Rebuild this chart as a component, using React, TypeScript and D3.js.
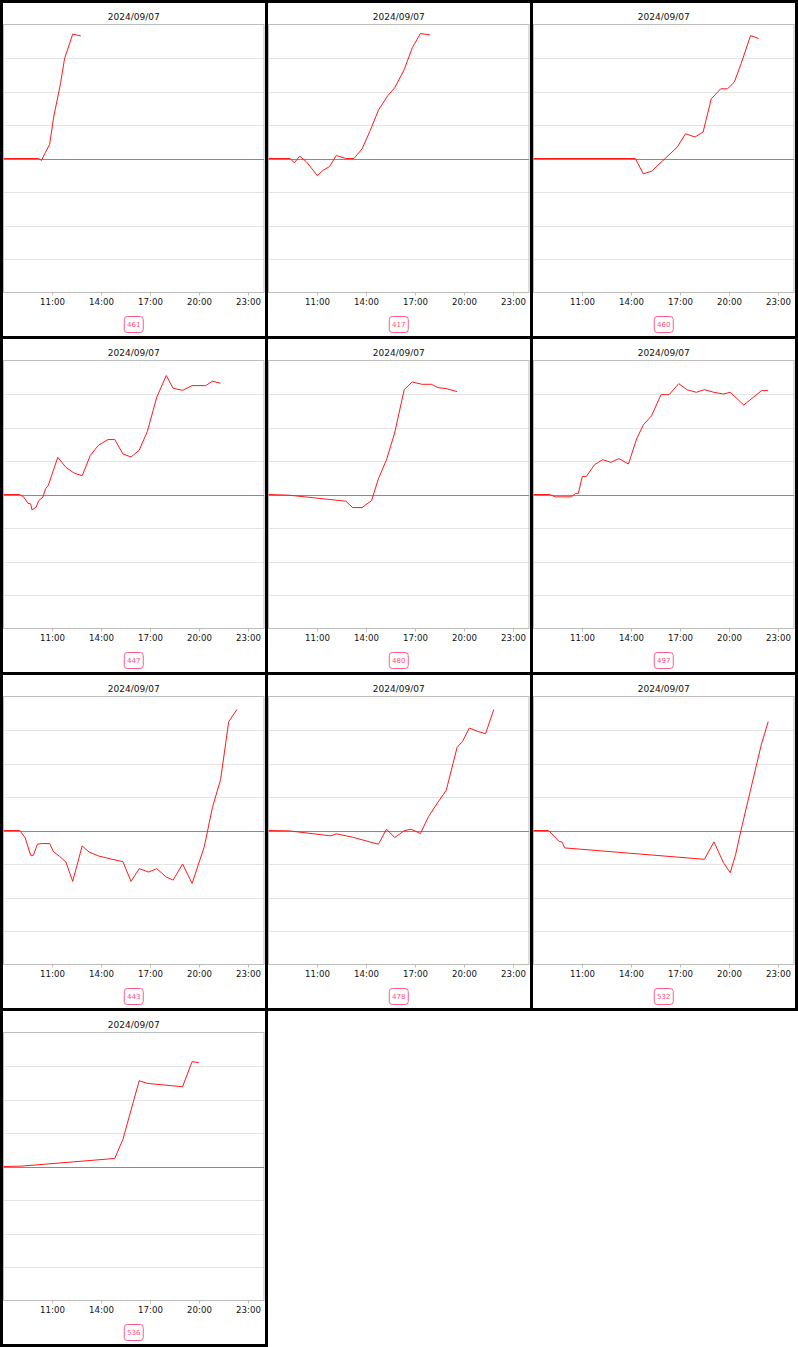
import React from "react";
import * as d3 from "d3";

// ---- data ----
const dateLabel = "2024/09/07";
const tickLabels = ["11:00", "14:00", "17:00", "20:00", "23:00"];
const xDomainHours = [8, 24];
const yDomain = [-4, 4];
const gridValues = [-3, -2, -1, 1, 2, 3];

const badgeIds = [461, 417, 460, 447, 480, 497, 443, 478, 532, 536];

type Pt = [string, number];

const series461: Pt[] = [
  ["08:00", 0], ["10:10", 0], ["10:20", -0.06], ["10:35", 0.19], ["10:50", 0.42],
  ["11:05", 1.24], ["11:30", 2.23], ["11:45", 2.98], ["12:15", 3.71], ["12:45", 3.66],
];
const series417: Pt[] = [
  ["08:00", 0], ["09:20", 0], ["09:35", -0.13], ["09:55", 0.07], ["10:20", -0.1],
  ["11:00", -0.51], ["11:20", -0.36], ["11:45", -0.24], ["12:10", 0.09], ["12:45", 0],
  ["13:15", 0], ["13:45", 0.29], ["14:15", 0.84], ["14:45", 1.44], ["15:20", 1.88],
  ["15:45", 2.11], ["16:20", 2.65], ["16:50", 3.31], ["17:20", 3.73], ["17:55", 3.69],
];
const series460: Pt[] = [
  ["08:00", 0], ["14:15", 0], ["14:45", -0.46], ["15:15", -0.38], ["16:05", 0],
  ["16:50", 0.34], ["17:20", 0.74], ["17:55", 0.64], ["18:25", 0.79], ["18:55", 1.78],
  ["19:30", 2.08], ["19:55", 2.08], ["20:20", 2.28], ["20:45", 2.83], ["21:20", 3.67],
  ["21:50", 3.58],
];
const series447: Pt[] = [
  ["08:00", 0], ["09:00", 0], ["09:15", -0.08], ["09:30", -0.26], ["09:40", -0.28],
  ["09:45", -0.46], ["10:00", -0.38], ["10:10", -0.18], ["10:25", -0.08], ["10:35", 0.17],
  ["10:45", 0.27], ["11:20", 1.11], ["11:50", 0.81], ["12:20", 0.64], ["12:50", 0.56],
  ["13:20", 1.17], ["13:50", 1.47], ["14:25", 1.64], ["14:50", 1.64], ["15:20", 1.21],
  ["15:50", 1.12], ["16:20", 1.32], ["16:50", 1.88], ["17:25", 2.91], ["18:00", 3.55],
  ["18:25", 3.17], ["19:00", 3.11], ["19:35", 3.25], ["20:25", 3.25], ["20:50", 3.38],
  ["21:20", 3.32],
];
const series480: Pt[] = [
  ["08:00", 0], ["09:15", -0.02], ["12:45", -0.2], ["13:10", -0.39], ["13:45", -0.39],
  ["14:20", -0.18], ["14:45", 0.47], ["15:15", 1.04], ["15:45", 1.84], ["16:20", 3.13],
  ["16:50", 3.36], ["17:25", 3.29], ["18:00", 3.29], ["18:25", 3.19], ["18:55", 3.16],
  ["19:35", 3.07],
];
const series497: Pt[] = [
  ["08:00", 0], ["09:00", 0], ["09:20", -0.07], ["10:20", -0.07], ["10:35", 0.03],
  ["10:45", 0.03], ["11:00", 0.54], ["11:15", 0.54], ["11:45", 0.89], ["12:15", 1.04],
  ["12:45", 0.96], ["13:15", 1.07], ["13:50", 0.91], ["14:20", 1.66], ["14:45", 2.08],
  ["15:15", 2.35], ["15:50", 2.98], ["16:20", 2.98], ["16:55", 3.31], ["17:25", 3.13],
  ["18:00", 3.05], ["18:30", 3.13], ["19:05", 3.05], ["19:40", 3.0], ["20:05", 3.05],
  ["20:55", 2.67], ["22:00", 3.1], ["22:25", 3.1],
];
const series443: Pt[] = [
  ["08:00", 0], ["09:00", 0], ["09:20", -0.22], ["09:40", -0.74], ["09:50", -0.74],
  ["10:05", -0.41], ["10:20", -0.39], ["10:50", -0.39], ["11:05", -0.64], ["11:25", -0.76],
  ["11:50", -0.94], ["12:15", -1.52], ["12:50", -0.46], ["13:15", -0.64], ["13:50", -0.76],
  ["14:40", -0.86], ["15:20", -0.93], ["15:50", -1.52], ["16:20", -1.14], ["16:55", -1.24],
  ["17:25", -1.14], ["18:00", -1.39], ["18:25", -1.48], ["19:00", -1.0], ["19:35", -1.58],
  ["20:20", -0.48], ["20:50", 0.69], ["21:20", 1.52], ["21:50", 3.25], ["22:20", 3.61],
];
const series478: Pt[] = [
  ["08:00", 0], ["09:15", -0.01], ["11:50", -0.16], ["12:10", -0.1], ["13:10", -0.2],
  ["14:45", -0.41], ["15:15", 0.04], ["15:45", -0.21], ["16:20", -0.01], ["16:45", 0.04],
  ["17:20", -0.09], ["17:50", 0.42], ["18:25", 0.85], ["18:55", 1.2], ["19:35", 2.48],
  ["19:55", 2.66], ["20:20", 3.06], ["20:50", 2.96], ["21:20", 2.89], ["21:50", 3.61],
];
const series532: Pt[] = [
  ["08:00", 0], ["08:55", 0], ["09:35", -0.33], ["09:45", -0.34], ["09:55", -0.52],
  ["18:30", -0.86], ["19:05", -0.34], ["19:40", -0.96], ["20:05", -1.26], ["20:25", -0.71],
  ["20:45", 0.02], ["22:00", 2.58], ["22:25", 3.25],
];
const series536: Pt[] = [
  ["08:00", 0], ["09:05", 0.01], ["14:50", 0.24], ["15:20", 0.81], ["16:20", 2.56],
  ["16:50", 2.48], ["19:00", 2.38], ["19:35", 3.13], ["20:00", 3.1],
];

const allSeries = [
  series461, series417, series460, series447, series480,
  series497, series443, series478, series532, series536,
];

// ---- layout ----
const W = 798;
const H = 1347;
const COLS = 3;
const PANEL_W = 265;
const PANEL_H = 336;
const FONT = "'DejaVu Sans', Verdana, sans-serif";

const toHours = (s: string) => {
  const [h, m] = s.split(":").map(Number);
  return h + m / 60;
};

function Panel({ idx }: { idx: number }) {
  const col = idx % COLS;
  const row = Math.floor(idx / COLS);
  const x0 = col * PANEL_W;
  const y0 = row * PANEL_H;
  const left = x0 + 3.5;
  const right = x0 + 264;
  const top = y0 + 24.5;
  const bottom = y0 + 292.5;
  const cx = (left + right) / 2;

  const x = d3.scaleLinear().domain(xDomainHours).range([left, right]);
  const y = d3.scaleLinear().domain(yDomain).range([bottom, top]);
  const line = d3
    .line<Pt>()
    .x((d) => x(toHours(d[0])))
    .y((d) => y(d[1]));

  const label = String(badgeIds[idx]);
  const bw = 19;
  const bh = 16;

  return (
    <g>
      <rect
        x={x0 + 1.5}
        y={y0 + 1.5}
        width={PANEL_W}
        height={PANEL_H}
        fill="#fff"
        stroke="#000"
        strokeWidth={3}
      />
      <text
        x={cx}
        y={y0 + 20}
        textAnchor="middle"
        fontFamily={FONT}
        fontSize={9}
        fill="#111"
      >
        {dateLabel}
      </text>
      {gridValues.map((g) => (
        <line
          key={g}
          x1={left}
          x2={right}
          y1={Math.round(y(g)) + 0.5}
          y2={Math.round(y(g)) + 0.5}
          stroke="#e4e4e4"
          strokeWidth={1}
        />
      ))}
      <rect
        x={left}
        y={top}
        width={right - left}
        height={bottom - top}
        fill="none"
        stroke="#bdbdbd"
        strokeWidth={1}
      />
      <line
        x1={left}
        x2={right}
        y1={Math.round(y(0)) + 0.5}
        y2={Math.round(y(0)) + 0.5}
        stroke="#8a8a8a"
        strokeWidth={1}
      />
      {tickLabels.map((t) => {
        const tx = Math.round(x(toHours(t))) + 0.5;
        return (
          <g key={t}>
            <line x1={tx} x2={tx} y1={bottom} y2={bottom + 3} stroke="#bdbdbd" />
            <text
              x={tx}
              y={y0 + 305}
              textAnchor="middle"
              fontFamily={FONT}
              fontSize={8.6}
              fill="#111"
            >
              {t}
            </text>
          </g>
        );
      })}
      <path
        d={line(allSeries[idx]) || ""}
        fill="none"
        stroke="#ff1a1a"
        strokeWidth={1}
        strokeLinejoin="round"
      />
      <rect
        x={cx - bw / 2}
        y={y0 + 316.5}
        width={bw}
        height={bh}
        rx={3}
        ry={3}
        fill="#fff"
        stroke="#ff5c86"
        strokeWidth={1}
      />
      <text
        x={cx}
        y={y0 + 327}
        textAnchor="middle"
        fontFamily={FONT}
        fontSize={7}
        fill="#ff4d7a"
      >
        {label}
      </text>
    </g>
  );
}

export default function App() {
  React.useEffect(() => {
    document.body.style.margin = "0";
  }, []);
  return (
    <svg
      width={W}
      height={H}
      viewBox={`0 0 ${W} ${H}`}
      style={{ position: "absolute", left: 0, top: 0, display: "block", background: "#fff" }}
    >
      {allSeries.map((_, i) => (
        <Panel key={i} idx={i} />
      ))}
    </svg>
  );
}
